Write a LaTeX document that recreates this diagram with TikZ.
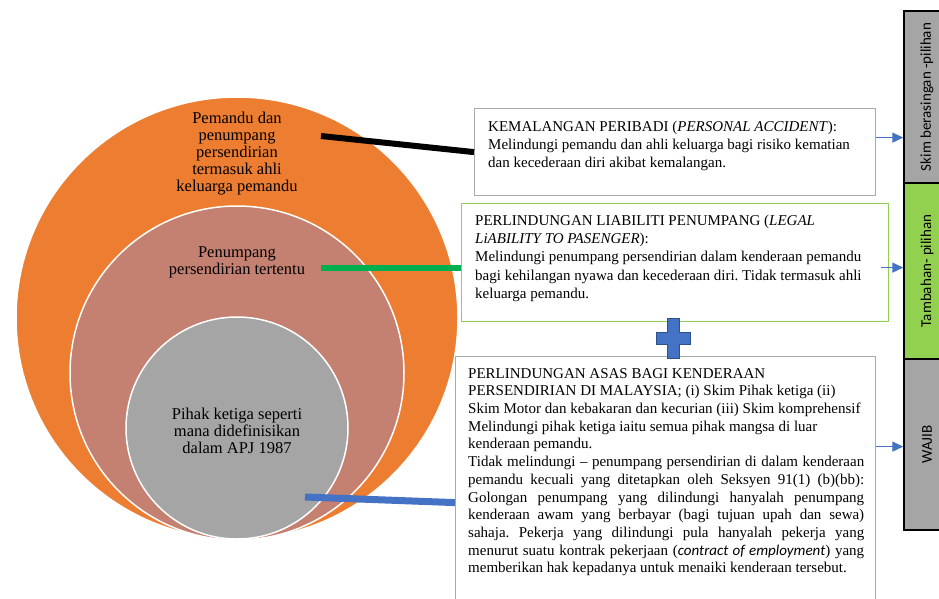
\documentclass[tikz,border=0pt]{standalone}
\usepackage{fontspec}
\setmainfont{Liberation Serif}
\newfontfamily\calibri{Carlito}
\usetikzlibrary{arrows.meta,positioning}
\setlength\parindent{0pt}
\frenchspacing
\definecolor{oranye}{RGB}{237,125,49}
\definecolor{bata}{RGB}{196,128,112}
\definecolor{abu}{RGB}{165,165,165}
\definecolor{garisabu}{RGB}{170,170,170}
\definecolor{hijaumuda}{RGB}{146,208,80}
\definecolor{hijau}{RGB}{0,176,80}
\definecolor{biru}{RGB}{68,114,196}
\definecolor{birutua}{RGB}{47,82,143}
\tikzset{
    lingkaran/.style = {circle, draw=white, line width=1.5pt, inner sep=0pt},
    isi/.style = {align=center, inner sep=0pt, font=\fontsize{16.5}{17}\selectfont},
    kotak/.style = {draw=garisabu, line width=1.2pt, anchor=north west, inner sep=0pt},
    teks/.style = {align=left, inner sep=0pt, font=\fontsize{15}{18.3}\selectfont},
    palang/.style = {draw=black, line width=1.5pt, minimum width=46pt, inner sep=0pt,
        font=\calibri\fontsize{15}{18}\selectfont},
    panah/.style = {draw=biru, line width=1.4pt, -{Triangle[length=11pt,width=10pt]}},
    tali/.style = {line width=6pt}
}

\begin{document}
\begin{tikzpicture}[x=1pt, y=-1pt]
    \useasboundingbox (0,0) rectangle (939,598);
    \clip (0,0) rectangle (939,598);

    \node[lingkaran, fill=oranye, minimum size=442pt] (luar) at (237,318) {};
    \node[lingkaran, fill=bata, minimum size=334pt] (tengah) at (237,373) {};
    \node[lingkaran, fill=abu, minimum size=222pt] (dalam) at (237,428) {};

    \node[isi] (tluar) at (237,154) {Pemandu dan\\ penumpang\\ persendirian\\ termasuk ahli\\ keluarga pemandu};
    \node[isi] (ttengah) at (237,262.5) {Penumpang\\ persendirian tertentu};
    \node[isi] (tdalam) at (237,430.5) {Pihak ketiga seperti\\ mana didefinisikan\\ dalam APJ 1987};

    \node[kotak, minimum width=401pt, minimum height=87pt] (kemalangan) at (474,108) {};
    \node[kotak, draw=hijaumuda, minimum width=427pt, minimum height=118pt] (liabiliti) at (461,203) {};
    \node[kotak, minimum width=420pt, minimum height=292pt] (asas) at (455,356) {};

    \node[teks, below right=12.5pt and 14pt of kemalangan.north west] (tkemalangan)
        {KEMALANGAN PERIBADI (\textit{PERSONAL ACCIDENT}):\\
         Melindungi pemandu dan ahli keluarga bagi risiko kematian\\
         dan kecederaan diri akibat kemalangan.};
    \node[teks, below right=11.5pt and 14pt of liabiliti.north west] (tliabiliti)
        {PERLINDUNGAN LIABILITI PENUMPANG (\textit{LEGAL}\\
         \textit{LiABILITY TO PASENGER}):\\
         Melindungi penumpang persendirian dalam kenderaan pemandu\\
         bagi kehilangan nyawa dan kecederaan diri. Tidak termasuk ahli\\
         keluarga pemandu.};
    \node[teks, text width=396pt, align=justify, font=\fontsize{15}{17.7}\selectfont,
        below right=12pt and 13pt of asas.north west] (tasas)
        {PERLINDUNGAN ASAS BAGI KENDERAAN\newline
         PERSENDIRIAN DI MALAYSIA; (i) Skim Pihak ketiga (ii)\newline
         Skim Motor dan kebakaran dan kecurian (iii) Skim komprehensif\newline
         Melindungi pihak ketiga iaitu semua pihak mangsa di luar\newline
         kenderaan pemandu.\newline
         Tidak melindungi -- penumpang persendirian di dalam kenderaan\linebreak
         pemandu kecuali yang ditetapkan oleh Seksyen 91(1) (b)(bb):\linebreak
         Golongan penumpang yang dilindungi hanyalah penumpang\linebreak
         kenderaan awam yang berbayar (bagi tujuan upah dan sewa)\linebreak
         sahaja. Pekerja yang dilindungi pula hanyalah pekerja yang\linebreak
         menurut suatu kontrak pekerjaan ({\calibri\itshape contract of employment}) yang\linebreak
         memberikan hak kepadanya untuk menaiki kenderaan tersebut.};

    \node[palang, fill=abu, minimum height=172pt] (skim) at (927,97) {\rotatebox{90}{Skim berasingan -pilihan}};
    \node[palang, fill=hijaumuda, minimum height=176pt, below=-1.5pt of skim] (tambahan) {\rotatebox{90}{Tambahan- pilihan}};
    \node[palang, fill=abu, minimum height=171pt, below=-1.5pt of tambahan] (wajib) {\rotatebox{90}{WAJIB}};

    \coordinate (c1) at (321,136);
    \coordinate (c2) at (321,268);
    \coordinate (c3) at (305,497);
    \draw[tali] (c1) -- (kemalangan.west);
    \draw[tali, draw=hijau] (c2) -- (c2 -| liabiliti.west);
    \draw[tali, draw=biru, line width=7pt] (c3) -- (asas.west);

    \draw[panah] ([yshift=14.5pt]kemalangan.east) coordinate (a1) -- (a1 -| skim.west);
    \draw[panah] ([xshift=-8pt, yshift=-5pt]liabiliti.east) coordinate (a2) -- (a2 -| tambahan.west);
    \draw[panah] ([yshift=56pt]asas.east) coordinate (a3) -- (a3 -| wajib.west);

    \filldraw[fill=biru, draw=birutua, line width=0.8pt] (667,318) -- ++(12,0) -- ++(0,14) -- ++(11,0)
        -- ++(0,12) -- ++(-11,0) -- ++(0,14) -- ++(-12,0) -- ++(0,-14) -- ++(-11,0) -- ++(0,-12)
        -- ++(11,0) -- cycle;
\end{tikzpicture}
\end{document}
